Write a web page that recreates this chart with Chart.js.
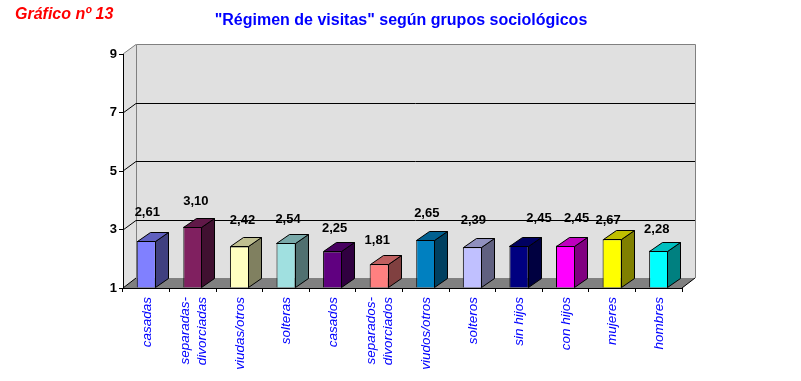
<!DOCTYPE html>
<html>
<head>
<meta charset="utf-8">
<script src="https://cdn.jsdelivr.net/npm/chart.js@4/dist/chart.umd.min.js"></script>
<style>
  html, body { margin: 0; padding: 0; background: #ffffff; }
  #wrap { width: 801px; height: 381px; position: relative; }
  canvas { display: block; }
</style>
</head>
<body>
<div id="wrap"><canvas id="c" width="801" height="381"></canvas></div>
<script>
// ---- Data ----
const categories = [
  ["casadas"], ["separadas-", "divorciadas"], ["viudas/otros"], ["solteras"],
  ["casados"], ["separados-", "divorciados"], ["viudos/otros"], ["solteros"],
  ["sin hijos"], ["con hijos"], ["mujeres"], ["hombres"]
];
const values = [2.61, 3.10, 2.42, 2.54, 2.25, 1.81, 2.65, 2.39, 2.45, 2.45, 2.67, 2.28];
const valueLabels = ["2,61", "3,10", "2,42", "2,54", "2,25", "1,81", "2,65", "2,39", "2,45", "2,45", "2,67", "2,28"];
const yTicks = [1, 3, 5, 7, 9];
const chartTitle = "\"Régimen de visitas\" según grupos sociológicos";
const chartNumber = "Gráfico nº 13";

// ---- Styles ----
const barColors = ["#8080FF", "#802060", "#FFFFC0", "#A0E0E0", "#600080", "#FF8080",
                   "#0080C0", "#C0C0FF", "#000080", "#FF00FF", "#FFFF00", "#00FFFF"];
// label placement nudges (Excel moved some labels to avoid overlaps)
const labelNudge = [[1,-2],[3,1],[3,0],[2,2],[2,3],[-2,2],[1,0],[1,-1],[20,-1],[11,-1],[-4,7],[-2,5]];
const FONT = '"Liberation Sans", Arial, Helvetica, sans-serif';
const DX = 13, DY = 10;       // floor / wall depth
const BDX = 13, BDY = 9;      // bar depth

function shade(hex, f) {
  const n = parseInt(hex.slice(1), 16);
  const r = Math.round(((n >> 16) & 255) * f);
  const g = Math.round(((n >> 8) & 255) * f);
  const b = Math.round((n & 255) * f);
  return "rgb(" + r + "," + g + "," + b + ")";
}

function poly(ctx, pts, fill, stroke) {
  ctx.beginPath();
  ctx.moveTo(pts[0][0], pts[0][1]);
  for (let i = 1; i < pts.length; i++) ctx.lineTo(pts[i][0], pts[i][1]);
  ctx.closePath();
  if (fill) { ctx.fillStyle = fill; ctx.fill(); }
  if (stroke) { ctx.strokeStyle = stroke; ctx.lineWidth = 1; ctx.stroke(); }
}

const backdrop = {
  id: "backdrop",
  beforeDraw(chart) {
    const ctx = chart.ctx;
    const ys = chart.scales.y;
    const L = chart.chartArea.left, R = chart.chartArea.right;
    const top = ys.getPixelForValue(yTicks[yTicks.length - 1]);
    const bot = ys.getPixelForValue(yTicks[0]);
    ctx.save();
    ctx.fillStyle = "#ffffff";
    ctx.fillRect(0, 0, chart.width, chart.height);
    // walls
    poly(ctx, [[L, top], [L + DX, top - DY], [R + DX, top - DY], [R + DX, bot - DY], [R, bot], [L, bot]], "#E0E0E0", null);
    // back wall outline
    ctx.strokeStyle = "#808080"; ctx.lineWidth = 1;
    ctx.beginPath();
    ctx.moveTo(L + DX + 0.5, bot - DY);
    ctx.lineTo(L + DX + 0.5, top - DY + 0.5);
    ctx.lineTo(R + DX + 0.5, top - DY + 0.5);
    ctx.lineTo(R + DX + 0.5, bot - DY);
    ctx.stroke();
    ctx.beginPath();
    ctx.moveTo(L, top); ctx.lineTo(L + DX, top - DY + 0.5);
    ctx.stroke();
    // floor
    poly(ctx, [[L, bot], [L + DX, bot - DY], [R + DX, bot - DY], [R, bot]], "#808080", null);
    ctx.strokeStyle = "#000000";
    ctx.beginPath(); ctx.moveTo(L, bot); ctx.lineTo(L + DX, bot - DY); ctx.stroke();
    ctx.beginPath(); ctx.moveTo(R, bot); ctx.lineTo(R + DX, bot - DY); ctx.stroke();
    // gridlines
    yTicks.slice(1, -1).forEach(v => {
      const y = Math.round(ys.getPixelForValue(v));
      ctx.strokeStyle = "#000000";
      ctx.beginPath();
      ctx.moveTo(L, y); ctx.lineTo(L + DX, y - DY + 0.5);
      ctx.lineTo(R + DX, y - DY + 0.5);
      ctx.stroke();
    });
    // titles
    ctx.textBaseline = "alphabetic";
    ctx.fillStyle = "#FF0000";
    ctx.font = "italic bold 16px " + FONT;
    ctx.textAlign = "left";
    ctx.fillText(chartNumber, 15, 19);
    ctx.fillStyle = "#0000FF";
    ctx.font = "bold 16px " + FONT;
    ctx.textAlign = "center";
    ctx.fillText(chartTitle, 401, 25);
    ctx.restore();
  },
  afterDatasetsDraw(chart) {
    const ctx = chart.ctx;
    const meta = chart.getDatasetMeta(0);
    const xs = chart.scales.x;
    const bottom = chart.chartArea.bottom;
    ctx.save();
    ctx.lineWidth = 1;
    meta.data.forEach((bar, i) => {
      const p = bar.getProps(["x", "y", "base", "width"], true);
      const x1 = Math.round(p.x - p.width / 2) + 0.5, x2 = Math.round(p.x + p.width / 2) - 0.5;
      const t = Math.round(p.y) + 0.5, b = Math.round(Math.min(p.base, bottom)) - 0.5;
      const c = barColors[i];
      poly(ctx, [[x2, t], [x2 + BDX, t - BDY], [x2 + BDX, b - BDY], [x2, b]], shade(c, 0.5), "#000000");
      poly(ctx, [[x1, t], [x1 + BDX, t - BDY], [x2 + BDX, t - BDY], [x2, t]], shade(c, 0.75), "#000000");
    });
    // value labels
    ctx.fillStyle = "#000000";
    ctx.font = "bold 13px " + FONT;
    ctx.textAlign = "center";
    ctx.textBaseline = "middle";
    meta.data.forEach((bar, i) => {
      const p = bar.getProps(["x", "y"], true);
      ctx.fillText(valueLabels[i], p.x + labelNudge[i][0], p.y - 26 + labelNudge[i][1]);
    });
    // category labels (rotated)
    ctx.fillStyle = "#0000FF";
    ctx.font = "italic 13.5px " + FONT;
    ctx.textAlign = "right";
    ctx.textBaseline = "middle";
    categories.forEach((lines, i) => {
      const cx = xs.getPixelForValue(i);
      const n = lines.length;
      lines.forEach((ln, j) => {
        const lx = cx + 0.5 + (j - (n - 1) / 2) * 17;
        ctx.save();
        ctx.translate(lx, 297);
        ctx.rotate(-Math.PI / 2);
        ctx.fillText(ln, 0, 0);
        ctx.restore();
      });
    });
    ctx.restore();
  }
};

new Chart(document.getElementById("c"), {
  type: "bar",
  data: {
    labels: categories,
    datasets: [{
      data: values,
      base: 1,
      backgroundColor: barColors,
      borderColor: "#000000",
      borderWidth: 1,
      barPercentage: 0.41,
      categoryPercentage: 1.0
    }]
  },
  options: {
    responsive: false,
    animation: false,
    devicePixelRatio: 1,
    layout: { padding: { left: 0, right: 119, top: 54, bottom: 0 } },
    plugins: { legend: { display: false }, tooltip: { enabled: false }, title: { display: false } },
    scales: {
      x: {
        offset: true,
        ticks: { display: false },
        grid: { display: true, drawOnChartArea: false, offset: true, tickLength: 4, color: "#000000" },
        border: { display: true, color: "#000000" },
        afterFit(scale) { scale.height = 93; }
      },
      y: {
        min: 1, max: 9,
        ticks: { stepSize: 2, padding: 2, color: "#000000", font: { family: FONT, size: 13, weight: "bold" } },
        grid: { display: true, drawOnChartArea: false, tickLength: 4, color: "#000000" },
        border: { display: true, color: "#000000" },
        afterFit(scale) { scale.width = 123; }
      }
    }
  },
  plugins: [backdrop]
});
</script>
</body>
</html>
